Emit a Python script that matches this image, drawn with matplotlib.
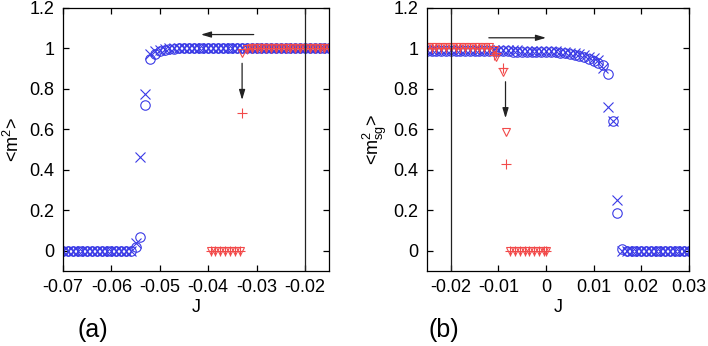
import numpy as np
import matplotlib.pyplot as plt

plt.rcParams['font.family'] = ['Liberation Sans', 'DejaVu Sans']

# ---- panel (a) data ----
# blue, J grid -0.070 ... -0.015 (step 0.001)
Ja_blue = np.round(np.arange(-0.070, -0.0149, 0.001), 4)
ma_circ = ([0.0] * 15 + [0.02, 0.065, 0.72, 0.945, 0.97, 0.985, 0.992, 0.996, 0.998]
           + [1.0] * 32)
ma_cross = ([0.0] * 15 + [0.04, 0.46, 0.775, 0.97, 0.985, 0.993, 0.997, 0.999, 1.0]
            + [1.0] * 32)

# red, coming from the right
Ja_red_low = [-0.0395, -0.0385, -0.0375, -0.0365, -0.0355, -0.0345, -0.0335]
ma_red_low = [0.0] * 7
Ja_red_high = np.round(np.arange(-0.033, -0.0149, 0.001), 4)
ma_tri_high = [0.975] + [0.997] + [1.0] * 17
ma_plus_high = [0.68] + [0.995] + [1.0] * 17

# ---- panel (b) data ----
Jb_blue = np.round(np.arange(-0.025, 0.0301, 0.001), 4)
mb_circ = ([0.985] * 16
           + [0.984, 0.984, 0.983, 0.983, 0.982, 0.982, 0.981, 0.981, 0.98, 0.98,
              0.98, 0.979, 0.978, 0.975, 0.972, 0.968, 0.962, 0.955, 0.945, 0.935,
              0.925, 0.915, 0.87, 0.64, 0.185, 0.01]
           + [0.0] * 14)
mb_cross = ([0.99] * 16
            + [0.99, 0.99, 0.989, 0.989, 0.988, 0.988, 0.987, 0.987, 0.986, 0.986,
               0.985, 0.984, 0.983, 0.98, 0.978, 0.975, 0.97, 0.965, 0.958, 0.95,
               0.94, 0.9, 0.71, 0.64, 0.25, 0.0]
            + [0.0] * 14)

Jb_red_high = [-0.025, -0.024, -0.023, -0.022, -0.021, -0.020, -0.019, -0.018,
               -0.017, -0.016, -0.015, -0.014, -0.013, -0.012, -0.011, -0.0105,
               -0.009, -0.0085]
mb_tri_high = [1.005] * 14 + [0.99, 0.955, 0.88, 0.585]
mb_plus_high = [1.0] * 14 + [0.965, 0.975, 0.9, 0.43]
Jb_red_low = [-0.0075, -0.0065, -0.0055, -0.0045, -0.0035, -0.0025, -0.0015, -0.0005, 0.0]
mb_red_low = [0.0] * 9

blue = '#3a3ae6'
red = '#f24a4a'

fig = plt.figure(figsize=(7.08, 3.46), dpi=100)
axa = fig.add_axes([0.089, 0.217, 0.376, 0.761])
axb = fig.add_axes([0.603, 0.217, 0.370, 0.761])


def markers(ax, J, m, mk, color, ms):
    ax.plot(J, m, ls='none', marker=mk, ms=ms, mfc='none', mec=color, mew=0.8)


markers(axa, Ja_blue, ma_circ, 'o', blue, 6.8)
markers(axa, Ja_blue, ma_cross, 'x', blue, 6.8)
markers(axa, Ja_red_low, ma_red_low, 'v', red, 5.5)
markers(axa, Ja_red_low, ma_red_low, '+', red, 6.5)
markers(axa, Ja_red_high, ma_tri_high, 'v', red, 5.5)
markers(axa, Ja_red_high, ma_plus_high, '+', red, 6.5)

markers(axb, Jb_blue, mb_circ, 'o', blue, 6.8)
markers(axb, Jb_blue, mb_cross, 'x', blue, 6.8)
markers(axb, Jb_red_high, mb_tri_high, 'v', red, 5.5)
markers(axb, Jb_red_high, mb_plus_high, '+', red, 6.5)
markers(axb, Jb_red_low, mb_red_low, 'v', red, 5.5)
markers(axb, Jb_red_low, mb_red_low, '+', red, 6.5)

arrow = dict(arrowstyle='-|>,head_length=0.6,head_width=0.18', color='#222222', lw=0.9,
             shrinkA=0, shrinkB=0)
axa.annotate('', xy=(-0.0415, 1.067), xytext=(-0.0306, 1.067), arrowprops=arrow)
axa.annotate('', xy=(-0.033, 0.744), xytext=(-0.033, 0.925), arrowprops=arrow)
axb.annotate('', xy=(0.0, 1.051), xytext=(-0.012, 1.051), arrowprops=arrow)
axb.annotate('', xy=(-0.0085, 0.654), xytext=(-0.0085, 0.834), arrowprops=arrow)

axa.axvline(-0.02, color='#222222', lw=0.9)
axb.axvline(-0.02, color='#222222', lw=0.9)

axa.set_xlim(-0.07, -0.015)
axb.set_xlim(-0.025, 0.03)
axa.set_xticks([-0.07, -0.06, -0.05, -0.04, -0.03, -0.02])
axa.set_xticklabels(['-0.07', '-0.06', '-0.05', '-0.04', '-0.03', '-0.02'])
axb.set_xticks([-0.02, -0.01, 0.0, 0.01, 0.02, 0.03])
axb.set_xticklabels(['-0.02', '-0.01', '0', '0.01', '0.02', '0.03'])

for ax in (axa, axb):
    ax.set_ylim(-0.1, 1.2)
    ax.set_yticks([0, 0.2, 0.4, 0.6, 0.8, 1.0, 1.2])
    ax.set_yticklabels(['0', '0.2', '0.4', '0.6', '0.8', '1', '1.2'])
    ax.tick_params(direction='in', top=True, right=True, length=4, width=0.9,
                   labelsize=13, pad=6)
    for s in ax.spines.values():
        s.set_linewidth(0.9)
    ax.set_xlabel('J', fontsize=13, labelpad=2)

axa.set_ylabel('<m$^\\mathregular{2}$>', fontsize=13, labelpad=5)
axb.set_ylabel('<$\\mathregular{m_{sg}^{2}}$>', fontsize=13, labelpad=3)

fig.text(93 / 708, 1 - 330 / 346, '(a)', fontsize=18, ha='center', va='center')
fig.text(444 / 708, 1 - 330 / 346, '(b)', fontsize=18, ha='center', va='center')

fig.savefig('out.png', dpi=100)
